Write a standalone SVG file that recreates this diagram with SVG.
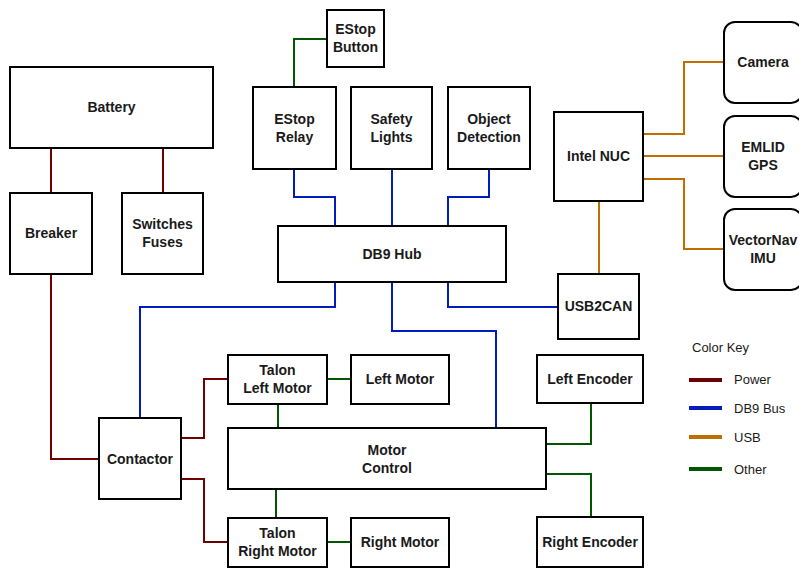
<svg xmlns="http://www.w3.org/2000/svg" width="799" height="568" viewBox="0 0 799 568">
<style>
.n{fill:#fff;stroke:#000;stroke-width:2}
.t{font-family:"Liberation Sans",Arial,sans-serif;font-size:14px;font-weight:bold;text-anchor:middle;fill:#1a1a1a}
.k{font-family:"Liberation Sans",Arial,sans-serif;font-size:13px;fill:#1a1a1a}
.c{fill:none;stroke-width:2}
.pw{stroke:#6F0000}.db{stroke:#001DBC}.us{stroke:#BD7000}.ot{stroke:#005700}
</style>
<rect width="799" height="568" fill="#fff"/>
<g id="connectors">
<path class="c pw" d="M51 148V193M163 148V193M51 274V459H99M181 438H204V379H228M181 479H204V542H228"/>
<path class="c ot" d="M327 39H294V87M327 379H351M278 404V428M276 489V518M327 542H351M546 444H591V403M546 474H591V517"/>
<path class="c db" d="M294 169V197H335V226M392 169V226M489 169V197H448V226M335 282V307H140V418M392 282V331H496V428M448 282V307H558"/>
<path class="c us" d="M643 134H684V62H724M643 156H724M643 179H684V249H724M599 201V274"/>
</g>
<g id="battery"><rect class="n" x="10" y="67" width="203" height="81"/><text class="t" x="111.5" y="112">Battery</text></g>
<g id="breaker"><rect class="n" x="10" y="193" width="82" height="81"/><text class="t" x="51" y="238">Breaker</text></g>
<g id="switches"><rect class="n" x="122" y="193" width="81" height="81"/><text class="t" x="162.5" y="229">Switches</text><text class="t" x="162.5" y="247">Fuses</text></g>
<g id="estop-button"><rect class="n" x="327" y="10" width="57" height="57"/><text class="t" x="355.5" y="34">EStop</text><text class="t" x="355.5" y="52">Button</text></g>
<g id="estop-relay"><rect class="n" x="253" y="87" width="83" height="82"/><text class="t" x="294.5" y="124">EStop</text><text class="t" x="294.5" y="142">Relay</text></g>
<g id="safety-lights"><rect class="n" x="351" y="87" width="81" height="82"/><text class="t" x="391.5" y="124">Safety</text><text class="t" x="391.5" y="142">Lights</text></g>
<g id="object-detection"><rect class="n" x="448" y="87" width="82" height="82"/><text class="t" x="489" y="124">Object</text><text class="t" x="489" y="142">Detection</text></g>
<g id="db9-hub"><rect class="n" x="278" y="226" width="228" height="56"/><text class="t" x="392" y="259">DB9 Hub</text></g>
<g id="intel-nuc"><rect class="n" x="554" y="112" width="89" height="89"/><text class="t" x="598.5" y="161">Intel NUC</text></g>
<g id="camera"><rect class="n" x="724" y="22" width="78" height="81" rx="11"/><text class="t" x="763" y="67">Camera</text></g>
<g id="emlid-gps"><rect class="n" x="724" y="116" width="78" height="81" rx="11"/><text class="t" x="763" y="152">EMLID</text><text class="t" x="763" y="170">GPS</text></g>
<g id="vectornav-imu"><rect class="n" x="724" y="209" width="78" height="81" rx="11"/><text class="t" x="763" y="245">VectorNav</text><text class="t" x="763" y="263">IMU</text></g>
<g id="usb2can"><rect class="n" x="558" y="274" width="81" height="65"/><text class="t" x="598.5" y="311">USB2CAN</text></g>
<g id="contactor"><rect class="n" x="99" y="418" width="82" height="81"/><text class="t" x="140" y="464">Contactor</text></g>
<g id="talon-left"><rect class="n" x="228" y="355" width="99" height="49"/><text class="t" x="277.5" y="375">Talon</text><text class="t" x="277.5" y="393">Left Motor</text></g>
<g id="left-motor"><rect class="n" x="351" y="355" width="98" height="49"/><text class="t" x="400" y="384">Left Motor</text></g>
<g id="motor-control"><rect class="n" x="228" y="428" width="318" height="61"/><text class="t" x="387" y="455">Motor</text><text class="t" x="387" y="473">Control</text></g>
<g id="talon-right"><rect class="n" x="228" y="518" width="99" height="49"/><text class="t" x="277.5" y="538">Talon</text><text class="t" x="277.5" y="556">Right Motor</text></g>
<g id="right-motor"><rect class="n" x="351" y="518" width="98" height="49"/><text class="t" x="400" y="547">Right Motor</text></g>
<g id="left-encoder"><rect class="n" x="537" y="355" width="106" height="48"/><text class="t" x="590" y="384">Left Encoder</text></g>
<g id="right-encoder"><rect class="n" x="537" y="517" width="106" height="50"/><text class="t" x="590" y="547">Right Encoder</text></g>
<g id="legend">
<text class="k" x="692" y="352">Color Key</text>
<line x1="689" y1="380" x2="722" y2="380" stroke="#6F0000" stroke-width="4"/>
<line x1="689" y1="408" x2="722" y2="408" stroke="#001DBC" stroke-width="4"/>
<line x1="689" y1="437" x2="722" y2="437" stroke="#BD7000" stroke-width="4"/>
<line x1="689" y1="469" x2="722" y2="469" stroke="#005700" stroke-width="4"/>
<text class="k" x="734" y="384">Power</text>
<text class="k" x="734" y="413">DB9 Bus</text>
<text class="k" x="734" y="442">USB</text>
<text class="k" x="734" y="474">Other</text>
</g>
</svg>
